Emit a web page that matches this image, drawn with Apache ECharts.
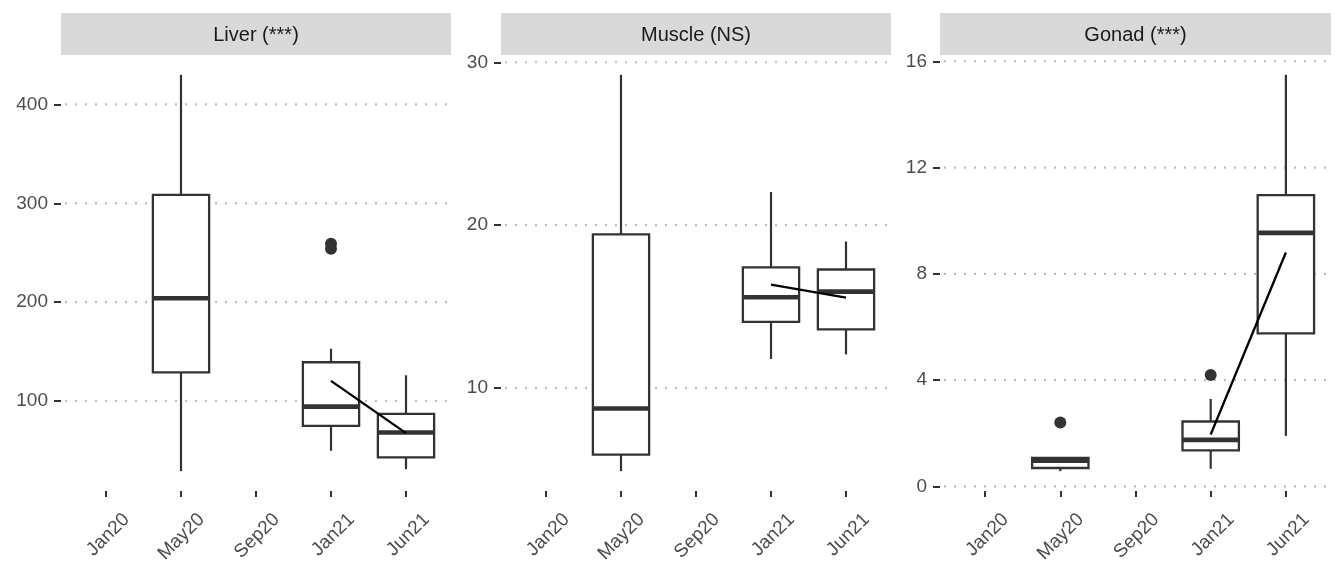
<!DOCTYPE html>
<html><head><meta charset="utf-8">
<script src="https://cdn.jsdelivr.net/npm/echarts@6/dist/echarts.min.js"></script>
<style>html,body{margin:0;padding:0;background:#fff}#c{width:1344px;height:576px}</style>
</head><body><div id="c"></div>
<script>
// ---------- data ----------
const categories = ['Jan20', 'May20', 'Sep20', 'Jan21', 'Jun21'];
const panelTitles = ['Liver (***)', 'Muscle (NS)', 'Gonad (***)'];
// box stats per category: [lower whisker, Q1, median, Q3, upper whisker]; null = no sample
const liverBox = [null, [29, 129, 204, 308.5, 430], null, [49.6, 74.9, 94.3, 139.2, 152.9], [31, 42.9, 68.2, 86.9, 126]];
const liverOutliers = [[3, 259], [3, 254]];
const liverMean = [[3, 120.4], [4, 67.5]];
const liverTicks = [100, 200, 300, 400];

const muscleBox = [null, [4.9, 5.92, 8.75, 19.43, 29.23], null, [11.79, 14.06, 15.58, 17.41, 22.04], [12.07, 13.61, 15.92, 17.28, 19.0]];
const muscleOutliers = [];
const muscleMean = [[3, 16.35], [4, 15.56]];
const muscleTicks = [10, 20, 30];

const gonadBox = [null, [0.57, 0.69, 0.96, 1.07, 1.1], null, [0.66, 1.35, 1.75, 2.44, 3.29], [1.9, 5.76, 9.54, 10.96, 15.49]];
const gonadOutliers = [[1, 2.4], [3, 4.19]];
const gonadMean = [[3, 1.95], [4, 8.8]];
const gonadTicks = [0, 4, 8, 12, 16];

// ---------- layout ----------
const FONT = '"Liberation Sans", Arial, sans-serif';
const panelLayout = [{ left: 61, width: 390 }, { left: 501, width: 390 }, { left: 940, width: 391 }];
const PANEL_TOP = 55, PANEL_H = 436, STRIP_TOP = 13, STRIP_H = 42;
const X_MIN = -0.6, X_MAX = 4.6, HALF_BOX = 0.375;

const panels = [
  { box: liverBox, out: liverOutliers, mean: liverMean, ticks: liverTicks },
  { box: muscleBox, out: muscleOutliers, mean: muscleMean, ticks: muscleTicks },
  { box: gonadBox, out: gonadOutliers, mean: gonadMean, ticks: gonadTicks }
];

function renderBox(params, api) {
  const x = api.value(0);
  const lo = api.value(1), q1 = api.value(2), med = api.value(3), q3 = api.value(4), hi = api.value(5);
  const tl = api.coord([x - HALF_BOX, q3]);
  const br = api.coord([x + HALF_BOX, q1]);
  const c = v => api.coord([x, v]);
  const cx = c(med)[0];
  const st = { stroke: '#333333', lineWidth: 2.2, fill: null };
  return {
    type: 'group', children: [
      { type: 'line', shape: { x1: cx, y1: c(hi)[1], x2: cx, y2: c(q3)[1] }, style: st },
      { type: 'line', shape: { x1: cx, y1: c(q1)[1], x2: cx, y2: c(lo)[1] }, style: st },
      { type: 'rect', shape: { x: tl[0], y: tl[1], width: br[0] - tl[0], height: br[1] - tl[1] }, style: { fill: '#ffffff', stroke: '#333333', lineWidth: 2.3 } },
      { type: 'line', shape: { x1: tl[0], y1: c(med)[1], x2: br[0], y2: c(med)[1] }, style: { stroke: '#333333', lineWidth: 4.6 } }
    ]
  };
}
function renderGrid(params, api) {
  const v = api.value(0);
  const a = api.coord([X_MIN, v]), b = api.coord([X_MAX, v]);
  return { type: 'line', shape: { x1: a[0] + 4, y1: a[1], x2: b[0] - 3, y2: b[1] }, style: { stroke: '#bdbdbd', lineWidth: 2.2, lineDash: [2, 8] } };
}

const grid = [], xAxis = [], yAxis = [], series = [], graphic = [];
panels.forEach((p, i) => {
  const L = panelLayout[i];
  grid.push({ left: L.left, width: L.width, top: PANEL_TOP, height: PANEL_H });
  // y range: data extent expanded by 5% each side
  const vals = [];
  p.box.forEach(b => { if (b) vals.push(...b); });
  p.out.forEach(o => vals.push(o[1]));
  const mn = Math.min(...vals), mx = Math.max(...vals), pad = (mx - mn) * 0.05;
  xAxis.push({
    gridIndex: i, type: 'value', min: X_MIN, max: X_MAX,
    axisLine: { show: false, onZero: false }, splitLine: { show: false },
    axisTick: { show: true, customValues: [0, 1, 2, 3, 4], length: 6, lineStyle: { color: '#333333', width: 2 } },
    axisLabel: {
      customValues: [0, 1, 2, 3, 4], rotate: 45, align: 'center', verticalAlign: 'middle', margin: 46,
      formatter: v => '{a|' + categories[Math.round(v)] + '}',
      rich: { a: { width: 58, align: 'right', color: '#4d4d4d', fontSize: 19, fontFamily: FONT } }
    }
  });
  yAxis.push({
    gridIndex: i, type: 'value', min: mn - pad, max: mx + pad,
    axisLine: { show: false, onZero: false }, splitLine: { show: false },
    axisTick: { show: true, customValues: p.ticks, length: 7, lineStyle: { color: '#333333', width: 2 } },
    axisLabel: { customValues: p.ticks, margin: 13, color: '#4d4d4d', fontSize: 19, fontFamily: FONT }
  });
  series.push({
    type: 'custom', xAxisIndex: i, yAxisIndex: i, z: 1, silent: true,
    renderItem: renderGrid, data: p.ticks.map(v => [v]), encode: { y: 0 }, clip: false
  });
  series.push({
    type: 'custom', xAxisIndex: i, yAxisIndex: i, z: 2,
    renderItem: renderBox,
    data: p.box.map((b, k) => b ? [k].concat(b) : null).filter(Boolean),
    encode: { x: 0, y: [1, 2, 3, 4, 5] }
  });
  series.push({
    type: 'scatter', xAxisIndex: i, yAxisIndex: i, z: 3, symbolSize: 12,
    itemStyle: { color: '#333333', opacity: 1 }, data: p.out
  });
  series.push({
    type: 'line', xAxisIndex: i, yAxisIndex: i, z: 4, symbol: 'none',
    lineStyle: { color: '#000000', width: 2.3 }, data: p.mean
  });
  graphic.push({ type: 'rect', left: L.left, top: STRIP_TOP, shape: { width: L.width, height: STRIP_H }, style: { fill: '#d9d9d9' } });
  graphic.push({
    type: 'text', x: L.left + L.width / 2, y: STRIP_TOP + STRIP_H / 2 + 1,
    style: { text: panelTitles[i], fill: '#1a1a1a', font: '20px ' + FONT, textAlign: 'center', textVerticalAlign: 'middle' }
  });
});

const chart = echarts.init(document.getElementById('c'));
chart.setOption({ animation: false, backgroundColor: '#ffffff', grid, xAxis, yAxis, series, graphic });
</script>
</body></html>
